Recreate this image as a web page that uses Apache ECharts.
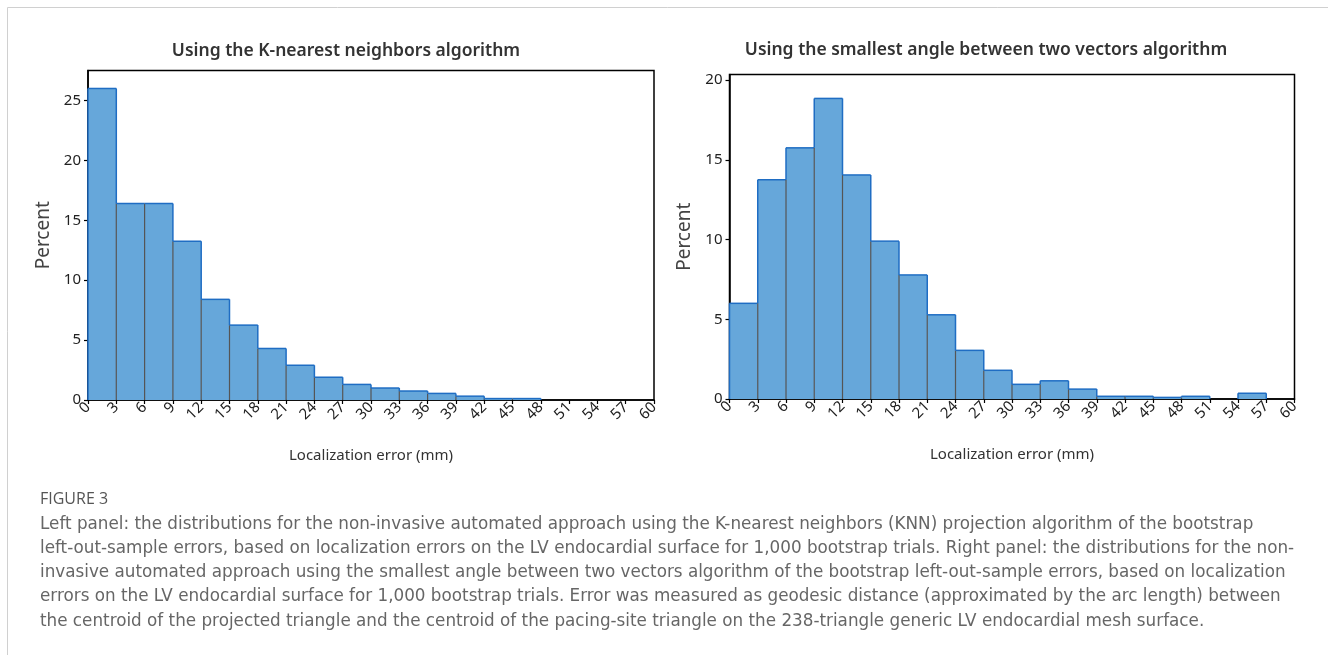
<!DOCTYPE html>
<html>
<head>
<meta charset="utf-8">
<script src="https://cdn.jsdelivr.net/npm/echarts@6/dist/echarts.min.js"></script>
<style>
html,body{margin:0;padding:0;background:#fff;}
#chart{width:1328px;height:655px;}
</style>
</head>
<body>
<div id="chart"></div>
<script>
// Bin edges (mm) / x tick labels
var binEdges = [0,3,6,9,12,15,18,21,24,27,30,33,36,39,42,45,48,51,54,57,60];
// Percent per bin, K-nearest neighbors algorithm
var knnPercent = [26.0,16.4,16.4,13.25,8.4,6.25,4.3,2.9,1.9,1.3,1.0,0.75,0.55,0.32,0.12,0.12,0,0,0,0];
// Percent per bin, smallest angle between two vectors algorithm
var anglePercent = [6.0,13.75,15.75,18.85,14.05,9.9,7.78,5.28,3.05,1.8,0.92,1.14,0.62,0.17,0.17,0.1,0.17,0,0.36,0];
var yTicksLeft = [0,5,10,15,20,25];
var yTicksRight = [0,5,10,15,20];

var titleLeft = 'Using the K-nearest neighbors algorithm';
var titleRight = 'Using the smallest angle between two vectors algorithm';
var xName = 'Localization error (mm)';
var yName = 'Percent';
var captionHead = 'FIGURE 3';
var captionLines = [
 'Left panel: the distributions for the non-invasive automated approach using the K-nearest neighbors (KNN) projection algorithm of the bootstrap',
 'left-out-sample errors, based on localization errors on the LV endocardial surface for 1,000 bootstrap trials. Right panel: the distributions for the non-',
 'invasive automated approach using the smallest angle between two vectors algorithm of the bootstrap left-out-sample errors, based on localization',
 'errors on the LV endocardial surface for 1,000 bootstrap trials. Error was measured as geodesic distance (approximated by the arc length) between',
 'the centroid of the projected triangle and the centroid of the pacing-site triangle on the 238-triangle generic LV endocardial mesh surface.'
];

var FILL = '#66a7da', BLUE = '#1f6dc3', GRAY = '#555555';
var FONT = '"Noto Sans", "Open Sans", sans-serif';

function buildData(vals){
  var d = [];
  for (var i = 0; i < vals.length; i++) d.push([binEdges[i], binEdges[i+1], vals[i]]);
  return d;
}

function makeRender(vals){
  return function(params, api){
    var i = params.dataIndex;
    var x0 = api.value(0), x1 = api.value(1), v = api.value(2);
    var tl = api.coord([x0, v]), br = api.coord([x1, 0]);
    var ch = [];
    if (v > 0) {
      ch.push({type:'rect', shape:{x:tl[0], y:tl[1], width:br[0]-tl[0], height:br[1]-tl[1]}, style:{fill:FILL}});
    }
    var prev = i > 0 ? vals[i-1] : 0;
    var lo = Math.min(prev, v), hi = Math.max(prev, v);
    var yLo = api.coord([x0, lo])[1], yHi = api.coord([x0, hi])[1];
    if (lo > 0) ch.push({type:'line', shape:{x1:tl[0], y1:br[1], x2:tl[0], y2:yLo}, style:{stroke:GRAY, lineWidth:1.2}});
    if (hi > lo) ch.push({type:'line', shape:{x1:tl[0], y1:yLo, x2:tl[0], y2:yHi}, style:{stroke:BLUE, lineWidth:1.5}});
    if (v > 0) ch.push({type:'line', shape:{x1:tl[0], y1:tl[1], x2:br[0], y2:tl[1]}, style:{stroke:BLUE, lineWidth:1.5}});
    if (i === vals.length - 1 && v > 0) ch.push({type:'line', shape:{x1:br[0], y1:br[1], x2:br[0], y2:tl[1]}, style:{stroke:BLUE, lineWidth:1.5}});
    return {type:'group', children:ch};
  };
}

function xAxis(gi){
  return {
    type:'value', gridIndex:gi, min:0, max:60, interval:3,
    name:xName, nameLocation:'middle', nameGap:48,
    nameTextStyle:{fontFamily:FONT, fontSize:15, color:'#333'},
    axisLine:{show:true, onZero:false, lineStyle:{color:'#000', width:1.5}},
    axisTick:{show:true, length:4, lineStyle:{color:'#000', width:1.2}},
    axisLabel:{rotate:45, fontFamily:FONT, fontSize:15, color:'#222', margin:5},
    splitLine:{show:false}
  };
}
function yAxis(gi, max, ticks){
  return {
    type:'value', gridIndex:gi, min:0, max:max, interval:5,
    name:yName, nameLocation:'middle', nameGap:35, nameRotate:90,
    nameTextStyle:{fontFamily:FONT, fontSize:19, color:'#444'},
    axisLine:{show:true, lineStyle:{color:'#000', width:1.5}},
    axisTick:{show:true, length:4, customValues:ticks, lineStyle:{color:'#000', width:1.2}},
    axisLabel:{fontFamily:FONT, fontSize:15, color:'#222', margin:7, customValues:ticks},
    splitLine:{show:false}
  };
}

var chart = echarts.init(document.getElementById('chart'), null, {renderer:'canvas'});
chart.setOption({
  backgroundColor:'#fff',
  animation:false,
  title:[
    {text:titleLeft, left:341, top:37, textAlign:'center', textStyle:{fontFamily:FONT, fontSize:17.5, fontWeight:600, color:'#333'}},
    {text:titleRight, left:981, top:36, textAlign:'center', textStyle:{fontFamily:FONT, fontSize:17.5, fontWeight:600, color:'#333'}}
  ],
  grid:[
    {left:88, top:70.5, width:566, height:329.5, show:true, borderColor:'#000', borderWidth:1.5, containLabel:false},
    {left:729.5, top:74.5, width:565, height:324.5, show:true, borderColor:'#000', borderWidth:1.5, containLabel:false}
  ],
  xAxis:[xAxis(0), xAxis(1)],
  yAxis:[yAxis(0, 27.5, yTicksLeft), yAxis(1, 20.35, yTicksRight)],
  series:[
    {type:'custom', xAxisIndex:0, yAxisIndex:0, data:buildData(knnPercent), renderItem:makeRender(knnPercent), encode:{x:[0,1], y:2}, clip:false},
    {type:'custom', xAxisIndex:1, yAxisIndex:1, data:buildData(anglePercent), renderItem:makeRender(anglePercent), encode:{x:[0,1], y:2}, clip:false}
  ],
  graphic:[
    {type:'line', shape:{x1:7.5, y1:7.5, x2:1328, y2:7.5}, style:{stroke:'#d0d0d0', lineWidth:1}},
    {type:'line', shape:{x1:7.5, y1:7.5, x2:7.5, y2:655}, style:{stroke:'#d0d0d0', lineWidth:1}},
    {type:'text', left:40, top:491, style:{text:captionHead, font:'16px "Open Sans", sans-serif', fill:'#555'}},
    {type:'text', left:40, top:512, style:{text:captionLines.join('\n'), font:'16.8px "DejaVu Sans", sans-serif', fill:'#666', lineHeight:24.3}}
  ]
});
</script>
</body>
</html>
